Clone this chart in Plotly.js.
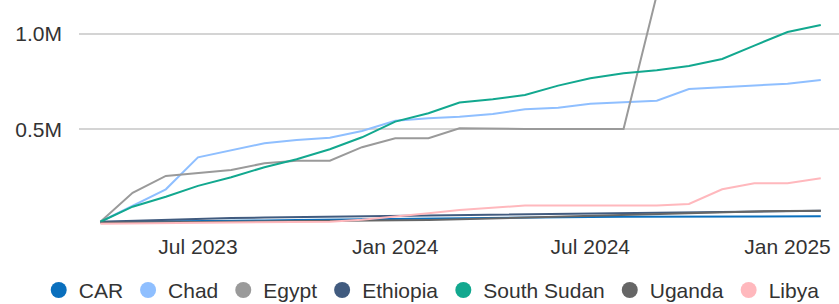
<!DOCTYPE html>
<html>
<head>
<meta charset="utf-8">
<script src="https://cdn.plot.ly/plotly-3.0.1.min.js"></script>
<style>html,body{margin:0;padding:0;background:#fff;}#chart{width:839px;height:304px;}</style>
</head>
<body>
<div id="chart"></div>
<script>
// Monthly dates
const dates = ["2023-04-01","2023-05-01","2023-06-01","2023-07-01","2023-08-01","2023-09-01","2023-10-01","2023-11-01","2023-12-01",
  "2024-01-01","2024-02-01","2024-03-01","2024-04-01","2024-05-01","2024-06-01","2024-07-01","2024-08-01","2024-09-01","2024-10-01","2024-11-01","2024-12-01",
  "2025-01-01","2025-02-01"];

// Values (in people)
const car        = [13000,14000,16000,18000,20000,22000,24000,26000,28000,31000,33000,35000,37000,38000,39000,40000,41000,41000,42000,42000,43000,43000,44000];
const chad       = [15000,99000,185000,353000,388000,427000,444000,456000,491000,545000,558000,566000,580000,605000,613000,634000,642000,650000,711000,720000,727000,739000,759000];
const egypt      = [15000,167000,255000,272000,286000,322000,335000,335000,406000,453000,453000,505000,502000,502000,502000,502000,502000,1205000,1205000,1205000,1205000,1500000,1500000];
const ethiopia   = [15000,20000,27000,33000,35000,37000,39000,41000,44000,47000,49000,51000,54000,56000,58000,60000,62000,64000,66000,68000,70000,71000,73000];
const southSudan = [15000,94000,146000,203000,248000,301000,343000,395000,458000,540000,584000,640000,657000,680000,729000,768000,794000,810000,832000,869000,939000,1010000,1047000];
const uganda     = [10000,11000,12000,13000,14000,15000,16000,17000,19000,21000,24000,28000,33000,38000,43000,48000,53000,58000,62000,66000,69000,71000,72000];
const libya      = [5000,6000,7000,8000,9000,10000,12000,15000,25000,41000,60000,77000,90000,100000,100000,100000,100000,100000,108000,185000,217000,217000,243000];

const names  = ["CAR","Chad","Egypt","Ethiopia","South Sudan","Uganda","Libya"];
const series = [car, chad, egypt, ethiopia, southSudan, uganda, libya];
const colors = ["#0a6fbd","#8fbfff","#9a9a9a","#415b7f","#12a88f","#666666","#ffb8bd"];

const yTickVals  = [500000, 1000000];
const yTickText  = ["0.5M", "1.0M"];

const traces = [];
series.forEach((vals, i) => {
  traces.push({
    type: "scatter", mode: "lines", x: dates, y: vals, name: names[i],
    line: {color: colors[i], width: 2}, showlegend: false, hoverinfo: "skip"
  });
});
names.forEach((n, i) => {
  traces.push({
    type: "scatter", mode: "markers", x: [null], y: [null], name: n,
    marker: {color: colors[i], size: 16, symbol: "circle"}, showlegend: true
  });
});

const layout = {
  width: 839, height: 304,
  margin: {l: 79, r: 0, t: 0, b: 72, autoexpand: false},
  paper_bgcolor: "#ffffff", plot_bgcolor: "#ffffff",
  font: {family: "Liberation Sans, Arial, sans-serif", size: 21, color: "#333333"},
  showlegend: true,
  legend: {orientation: "h", x: -0.053, xanchor: "left", y: -0.34, yanchor: "bottom",
           font: {size: 21, color: "#333333"}, itemwidth: 30, tracegroupgap: 0,
           bgcolor: "rgba(0,0,0,0)"},
  xaxis: {
    type: "date", range: ["2023-03-12", "2025-02-18"],
    tick0: "2023-07-01", dtick: "M6", tickformat: "%b %Y",
    showgrid: false, zeroline: false, showline: false, ticks: "",
    tickfont: {size: 21, color: "#333333"}
  },
  yaxis: {
    range: [-38800, 1178000],
    tickmode: "array", tickvals: yTickVals, ticktext: yTickText,
    showgrid: true, gridcolor: "#d4d4d4", gridwidth: 2,
    zeroline: false, showline: false, ticks: "", ticklabelstandoff: 16,
    tickfont: {size: 21, color: "#333333"}
  }
};

Plotly.newPlot("chart", traces, layout, {displayModeBar: false, staticPlot: true});
</script>
</body>
</html>
